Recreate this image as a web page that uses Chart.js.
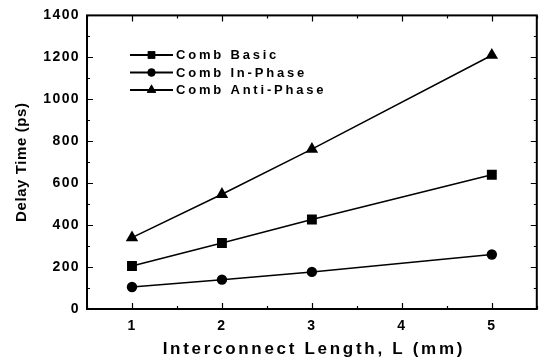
<!DOCTYPE html>
<html>
<head>
<meta charset="utf-8">
<title>Delay Time vs Interconnect Length</title>
<script src="https://cdn.jsdelivr.net/npm/chart.js@4/dist/chart.umd.min.js"></script>
<style>
  html, body { margin: 0; padding: 0; background: #fff; }
  canvas { display: block; }
</style>
</head>
<body>
<canvas id="c" width="544" height="363"></canvas>
<script>
// Interconnect length (mm) at which each comb structure was measured
const lengths = [1, 2, 3, 5];
// Delay time (ps) per structure
const combBasic = [205, 315, 427, 640];
const combInPhase = [105, 140, 177, 260];
const combAntiPhase = [340, 547, 762, 1210];
const seriesNames = ['Comb Basic', 'Comb In-Phase', 'Comb Anti-Phase'];
const markerStyles = ['rect', 'circle', 'triangle'];
const xTickValues = [1, 2, 3, 4, 5];
const yTickStep = 200;
const xTitle = 'Interconnect Length, L (mm)';
const yTitle = 'Delay Time (ps)';

const FONT = "'Liberation Sans', Arial, Helvetica, sans-serif";

function toPoints(values) {
  return values.map((v, i) => ({ x: lengths[i], y: v }));
}

const markerRadius = { rect: 7, circle: 5.2, triangle: 7.2 };
const seriesValues = [combBasic, combInPhase, combAntiPhase];

const datasets = seriesValues.map((vals, i) => ({
  label: seriesNames[i],
  data: toPoints(vals),
  borderColor: '#000',
  backgroundColor: '#000',
  borderWidth: 1.5,
  pointStyle: markerStyles[i],
  pointRadius: markerRadius[markerStyles[i]],
  pointBorderWidth: 0,
  pointBackgroundColor: '#000',
  tension: 0,
  fill: false
}));

// Frame with inward major/minor ticks on all four sides, titles and legend
const framePlugin = {
  id: 'frame',
  beforeDraw(chart) {
    chart.ctx.letterSpacing = '1.4px';
  },
  afterDatasetsDraw(chart) {
    const { ctx, chartArea: a, scales: { x, y } } = chart;
    ctx.save();
    ctx.letterSpacing = '0px';
    ctx.strokeStyle = '#000';
    ctx.lineWidth = 1.2;
    ctx.beginPath();
    // x ticks (major at integers, minor at halves)
    for (let v = x.min; v <= x.max + 1e-9; v += 0.5) {
      const px = Math.round(x.getPixelForValue(v)) + 0.5;
      const major = Math.abs(v - Math.round(v)) < 1e-9;
      const len = major ? 6 : 3;
      ctx.moveTo(px, a.bottom); ctx.lineTo(px, a.bottom - len);
      ctx.moveTo(px, a.top); ctx.lineTo(px, a.top + len);
    }
    // y ticks (major every 200, minor every 100)
    for (let v = y.min; v <= y.max + 1e-9; v += yTickStep / 2) {
      const py = Math.round(y.getPixelForValue(v)) + 0.5;
      const major = v % yTickStep === 0;
      const len = major ? 6 : 3;
      ctx.moveTo(a.left, py); ctx.lineTo(a.left + len, py);
      ctx.moveTo(a.right, py); ctx.lineTo(a.right - len, py);
    }
    ctx.stroke();
    ctx.lineWidth = 2;
    ctx.strokeRect(a.left, a.top, a.right - a.left, a.bottom - a.top);
    ctx.restore();
  },
  afterDraw(chart) {
    const { ctx, chartArea: a } = chart;
    ctx.save();
    ctx.fillStyle = '#000';
    ctx.textBaseline = 'middle';

    // axis titles
    ctx.font = 'bold 17px ' + FONT;
    ctx.letterSpacing = '2.7px';
    ctx.textAlign = 'center';
    ctx.fillText(xTitle, (a.left + a.right) / 2 + 2, 349);

    ctx.save();
    ctx.translate(22, (a.top + a.bottom) / 2);
    ctx.rotate(-Math.PI / 2);
    ctx.font = 'bold 15px ' + FONT;
    ctx.letterSpacing = '0.6px';
    ctx.fillText(yTitle, 0, 0);
    ctx.restore();

    // legend: line - marker - line, then label
    ctx.font = 'bold 13px ' + FONT;
    ctx.letterSpacing = '2.8px';
    ctx.textAlign = 'left';
    const x0 = 130, x1 = 173, xm = (x0 + x1) / 2, xt = 176;
    const rows = [55, 72.5, 90];
    chart.data.datasets.forEach((ds, i) => {
      const yy = rows[i];
      ctx.strokeStyle = '#000';
      ctx.lineWidth = 1.8;
      ctx.beginPath();
      ctx.moveTo(x0, yy); ctx.lineTo(x1, yy);
      ctx.stroke();
      Chart.helpers.drawPoint(ctx, {
        pointStyle: ds.pointStyle,
        radius: ds.pointRadius * 0.75,
        rotation: 0,
        borderWidth: 0
      }, xm, yy);
      ctx.fillStyle = '#000';
      ctx.fill();
      ctx.fillText(ds.label, xt, yy + 0.5);
    });
    ctx.restore();
  }
};

new Chart(document.getElementById('c'), {
  type: 'line',
  data: { datasets },
  options: {
    responsive: false,
    animation: false,
    devicePixelRatio: 1,
    layout: { padding: { top: 11, right: 2, left: 0, bottom: 0 } },
    plugins: { legend: { display: false }, tooltip: { enabled: false } },
    scales: {
      x: {
        type: 'linear',
        min: 0.5,
        max: 5.5,
        afterBuildTicks(scale) {
          scale.ticks = xTickValues.map(v => ({ value: v }));
        },
        afterFit(scale) { scale.height = 54; },
        grid: { display: false, drawTicks: false },
        border: { display: false },
        ticks: {
          color: '#000',
          padding: 9,
          font: { family: FONT, size: 14, weight: 'bold' },
          maxRotation: 0,
          autoSkip: false,
          callback: v => String(v)
        },
        title: { display: false }
      },
      y: {
        min: 0,
        max: 1400,
        afterFit(scale) { scale.width = 87; },
        grid: { display: false, drawTicks: false },
        border: { display: false },
        ticks: {
          stepSize: yTickStep,
          color: '#000',
          padding: 7,
          font: { family: FONT, size: 14, weight: 'bold' },
          callback: v => String(v)
        },
        title: { display: false }
      }
    }
  },
  plugins: [framePlugin]
});
</script>
</body>
</html>
